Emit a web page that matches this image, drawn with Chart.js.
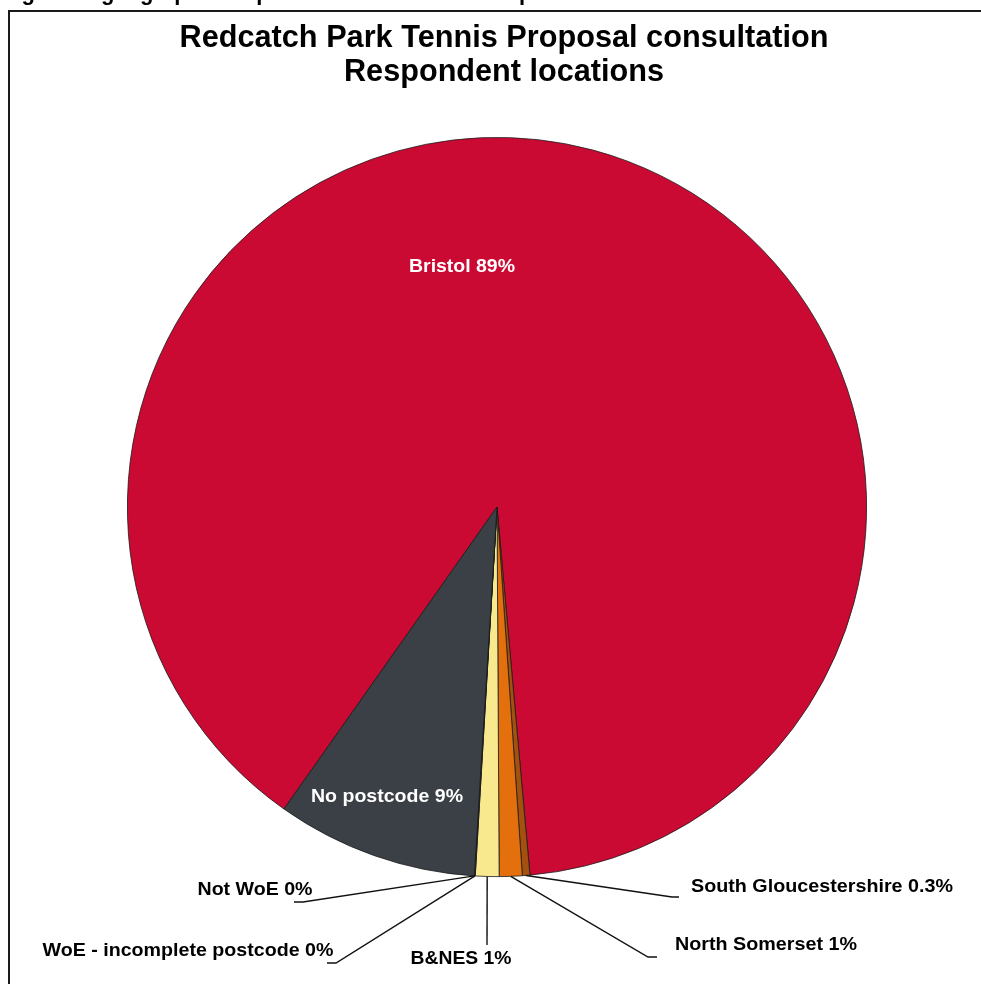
<!DOCTYPE html>
<html>
<head>
<meta charset="utf-8">
<script src="https://cdn.jsdelivr.net/npm/chart.js@4.4.1/dist/chart.umd.min.js"></script>
<style>
  html, body { margin: 0; padding: 0; background: #fff; }
  #wrap { position: relative; width: 981px; height: 984px; }
</style>
</head>
<body>
<div id="wrap"><canvas id="pie" width="981" height="984"></canvas></div>
<script>
// Respondent locations, clockwise from the start of the Bristol slice
const categories = ['Bristol', 'South Gloucestershire', 'North Somerset', 'B&NES',
  'WoE - incomplete postcode', 'Not WoE', 'No postcode'];
const shares = [88.8, 0.33, 1.0, 1.03, 0.02, 0.02, 8.8];
const shareLabels = ['89%', '0.3%', '1%', '1%', '0%', '0%', '9%'];
const sliceColors = ['#CB0A33', '#A4500F', '#E4700D', '#F8E98F', '#F2D060', '#7A7A7A', '#3B3F46'];

// label placement: text centre, target width, leader elbow + end (inside labels have no line)
const labelLayout = [
  { x: 462, y: 267, w: 106, color: '#fff' },
  { x: 822, y: 887, w: 262, line: [672, 897, 679] },
  { x: 766, y: 945, w: 182, line: [648, 957, 657] },
  { x: 461, y: 959, w: 101, line: [487, 945, 487] },
  { x: 188, y: 951, w: 291, line: [336, 963, 327] },
  { x: 255, y: 890, w: 115, line: [303, 902, 294] },
  { x: 387, y: 797, w: 152, color: '#fff' },
];

function fitText(ctx, text, cx, cy, width, font) {
  ctx.save();
  ctx.font = font;
  const m = ctx.measureText(text).width;
  ctx.translate(cx, cy);
  ctx.scale(width / m, 1);
  ctx.textAlign = 'center';
  ctx.textBaseline = 'middle';
  ctx.fillText(text, 0, 0);
  ctx.restore();
}

const decor = {
  id: 'decor',
  afterDraw(chart) {
    const ctx = chart.ctx;
    ctx.save();
    // frame
    ctx.strokeStyle = '#1a1a1a';
    ctx.lineWidth = 2;
    ctx.strokeRect(9, 11, 990, 990);
    // cut-off caption above the frame
    ctx.fillStyle = '#000';
    ctx.font = 'bold 22px "Liberation Sans", Arial, sans-serif';
    ctx.textBaseline = 'alphabetic';
    ctx.textAlign = 'left';
    ctx.fillText('Figure 1: geographical spread of consultation respondents', 2, 0);
    // title
    fitText(ctx, 'Redcatch Park Tennis Proposal consultation', 504, 38, 649, 'bold 31px "Liberation Sans", Arial, sans-serif');
    fitText(ctx, 'Respondent locations', 504, 72, 320, 'bold 31px "Liberation Sans", Arial, sans-serif');

    const arcs = chart.getDatasetMeta(0).data;
    arcs.forEach((arc, i) => {
      const lay = labelLayout[i];
      const text = categories[i] + ' ' + shareLabels[i];
      if (lay.line) {
        const mid = (arc.startAngle + arc.endAngle) / 2;
        const ax = arc.x + Math.cos(mid) * arc.outerRadius;
        const ay = arc.y + Math.sin(mid) * arc.outerRadius;
        ctx.strokeStyle = '#111';
        ctx.lineWidth = 1.4;
        ctx.beginPath();
        ctx.moveTo(ax, ay);
        ctx.lineTo(lay.line[0], lay.line[1]);
        ctx.lineTo(lay.line[2], lay.line[1]);
        ctx.stroke();
      }
      ctx.fillStyle = lay.color || '#000';
      fitText(ctx, text, lay.x, lay.y, lay.w, 'bold 19px "Liberation Sans", Arial, sans-serif');
    });
    ctx.restore();
  }
};

new Chart(document.getElementById('pie').getContext('2d'), {
  type: 'pie',
  data: {
    labels: categories,
    datasets: [{
      data: shares,
      backgroundColor: sliceColors,
      borderColor: '#1a1a1a',
      borderWidth: 0.8,
    }]
  },
  options: {
    responsive: false,
    animation: false,
    rotation: 215.2,
    layout: { padding: { left: 127, right: 114, top: 137, bottom: 107 } },
    plugins: { legend: { display: false }, tooltip: { enabled: false } }
  },
  plugins: [decor]
});
</script>
</body>
</html>
